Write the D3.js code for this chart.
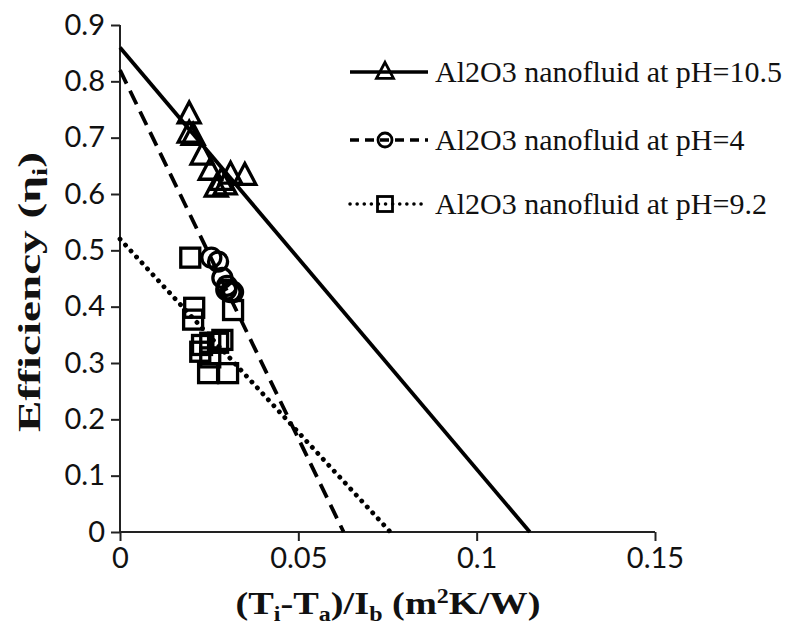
<!DOCTYPE html>
<html>
<head>
<meta charset="utf-8">
<script src="https://cdn.jsdelivr.net/npm/d3@7/dist/d3.min.js"></script>
<style>
  html, body { margin: 0; padding: 0; background: #fff; }
  svg { display: block; }
</style>
</head>
<body>
<svg id="chart" width="789" height="630"></svg>
<script>
// Tick values
const xTicks = [0, 0.05, 0.1, 0.15];
const yTicks = [0, 0.1, 0.2, 0.3, 0.4, 0.5, 0.6, 0.7, 0.8, 0.9];

// Series names (legend order)
const seriesNames = [
  "Al2O3 nanofluid at pH=10.5",
  "Al2O3 nanofluid at pH=4",
  "Al2O3 nanofluid at pH=9.2"
];

// Measured points [x, efficiency]
const ph105Points = [
  [0.0194, 0.741], [0.0194, 0.707], [0.0205, 0.703], [0.0230, 0.668],
  [0.0253, 0.641], [0.0270, 0.611], [0.0284, 0.623], [0.0295, 0.615],
  [0.0310, 0.634], [0.0350, 0.632]
];
const ph4Points = [
  [0.0256, 0.487], [0.0275, 0.480], [0.0287, 0.451], [0.0298, 0.430],
  [0.0300, 0.437], [0.0310, 0.426], [0.0317, 0.426]
];
const ph92Points = [
  [0.0197, 0.487], [0.0208, 0.398], [0.0205, 0.377], [0.0317, 0.394],
  [0.0230, 0.332], [0.0253, 0.336], [0.0275, 0.336], [0.0225, 0.320],
  [0.0247, 0.282], [0.0303, 0.282], [0.0287, 0.341], [0.0253, 0.310]
];

// Linear fits: [intercept, x where efficiency reaches zero]
const ph105Fit = [0.86, 0.1149];
const ph4Fit = [0.82, 0.0627];
const ph92Fit = [0.52, 0.0758];

const svg = d3.select("#chart");
const x = d3.scaleLinear().domain([0, 0.15]).range([120, 655]);
const y = d3.scaleLinear().domain([0, 0.9]).range([532, 25]);

const tickFont = "Lato, 'Open Sans', sans-serif";
const serif = "'Liberation Serif', 'DejaVu Serif', serif";

// Axes
const xAxis = svg.append("g").attr("transform", `translate(0,${y(0)})`)
  .call(d3.axisBottom(x).tickValues(xTicks).tickSize(9).tickPadding(6)
    .tickFormat(d => d === 0 ? "0" : String(+d.toFixed(2))));
const yAxis = svg.append("g").attr("transform", `translate(${x(0)},0)`)
  .call(d3.axisLeft(y).tickValues(yTicks).tickSize(9).tickPadding(6)
    .tickFormat(d => d === 0 ? "0" : String(+d.toFixed(1))));
[xAxis, yAxis].forEach(g => {
  g.select(".domain").attr("stroke", "#222").attr("stroke-width", 2);
  g.selectAll(".tick line").attr("stroke", "#222").attr("stroke-width", 2);
  g.selectAll(".tick text").attr("fill", "#111")
    .style("font-family", tickFont).style("font-size", "29px");
});
// Plain domain lines without the outer tick stubs
xAxis.select(".domain").attr("d", `M${x(0)},0H${x(0.15)}`);
yAxis.select(".domain").attr("d", `M0,${y(0)}V${y(0.9)}`);

// Fit lines
const fits = [
  { fit: ph105Fit, dash: null, width: 3.8, cap: "butt" },
  { fit: ph4Fit, dash: "15 8", width: 3.8, cap: "butt" },
  { fit: ph92Fit, dash: "0.1 8", width: 4.8, cap: "round" }
];
fits.forEach(f => {
  svg.append("line")
    .attr("x1", x(0)).attr("y1", y(f.fit[0]))
    .attr("x2", x(f.fit[1])).attr("y2", y(0))
    .attr("stroke", "#000").attr("stroke-width", f.width)
    .attr("stroke-linecap", f.cap)
    .attr("stroke-dasharray", f.dash);
});

// Open markers (no fill)
function triangle(g, cx, cy, s, w) {
  const h = s * 0.95;
  g.append("path")
    .attr("d", `M${cx},${cy - h * 0.6}L${cx + s / 2},${cy + h * 0.4}L${cx - s / 2},${cy + h * 0.4}Z`)
    .attr("fill", "none").attr("stroke", "#000").attr("stroke-width", w)
    .attr("stroke-linejoin", "miter");
}
function circle(g, cx, cy, s, w) {
  g.append("circle").attr("cx", cx).attr("cy", cy).attr("r", s / 2)
    .attr("fill", "none").attr("stroke", "#000").attr("stroke-width", w);
}
function square(g, cx, cy, s, w) {
  g.append("rect").attr("x", cx - s / 2).attr("y", cy - s / 2)
    .attr("width", s).attr("height", s)
    .attr("fill", "none").attr("stroke", "#000").attr("stroke-width", w);
}

const marks = svg.append("g");
ph105Points.forEach(p => triangle(marks, x(p[0]), y(p[1]), 22, 3.3));
ph4Points.forEach(p => circle(marks, x(p[0]), y(p[1]), 19, 3.3));
ph92Points.forEach(p => square(marks, x(p[0]), y(p[1]), 19, 3.3));

// Legend
const legend = svg.append("g");
const legendRows = [
  { y: 72, dash: null, width: 3.5, cap: "butt", mark: triangle, size: 17 },
  { y: 140, dash: "9 6", width: 3.5, cap: "butt", mark: circle, size: 14 },
  { y: 204, dash: "0.1 7", width: 3.5, cap: "round", mark: square, size: 15 }
];
legendRows.forEach((r, i) => {
  legend.append("line").attr("x1", 350).attr("x2", 428)
    .attr("y1", r.y).attr("y2", r.y)
    .attr("stroke", "#000").attr("stroke-width", r.width)
    .attr("stroke-linecap", r.cap).attr("stroke-dasharray", r.dash);
  r.mark(legend, 385, r.y, r.size, 2.8);
  legend.append("text").attr("x", 435).attr("y", r.y + 10)
    .style("font-family", serif).style("font-size", "30px").attr("fill", "#111")
    .text(seriesNames[i]);
});

// Axis titles, set in bold serif and widened along the reading direction
function title(parts, size) {
  const t = svg.append("text").attr("text-anchor", "start")
    .style("font-family", serif).style("font-size", size + "px").style("font-weight", "bold")
    .attr("fill", "#111");
  parts.forEach(p => {
    const s = t.append("tspan").text(p.t);
    if (p.dy) s.attr("dy", p.dy);
    if (p.small) s.style("font-size", Math.round(size * 0.64) + "px");
  });
  return t;
}
function place(t, cx, cy, targetLen, rotate) {
  const len = t.node().getComputedTextLength();
  const k = targetLen / len;
  t.attr("transform", `translate(${cx},${cy}) rotate(${rotate}) scale(${k},1) translate(${-len / 2},0)`);
}

const yTitle = title([
  { t: "Efficiency (η" }, { t: "i", dy: 7, small: true }, { t: ")", dy: -7 }
], 32);
place(yTitle, 40, 292, 280, -90);

const xTitle = title([
  { t: "(T" }, { t: "i", dy: 7, small: true }, { t: "-T", dy: -7 },
  { t: "a", dy: 7, small: true }, { t: ")/I", dy: -7 },
  { t: "b", dy: 7, small: true }, { t: "  (m", dy: -7 },
  { t: "2", dy: -11, small: true }, { t: "K/W)", dy: 11 }
], 32);
place(xTitle, 388, 614, 305, 0);
</script>
</body>
</html>
